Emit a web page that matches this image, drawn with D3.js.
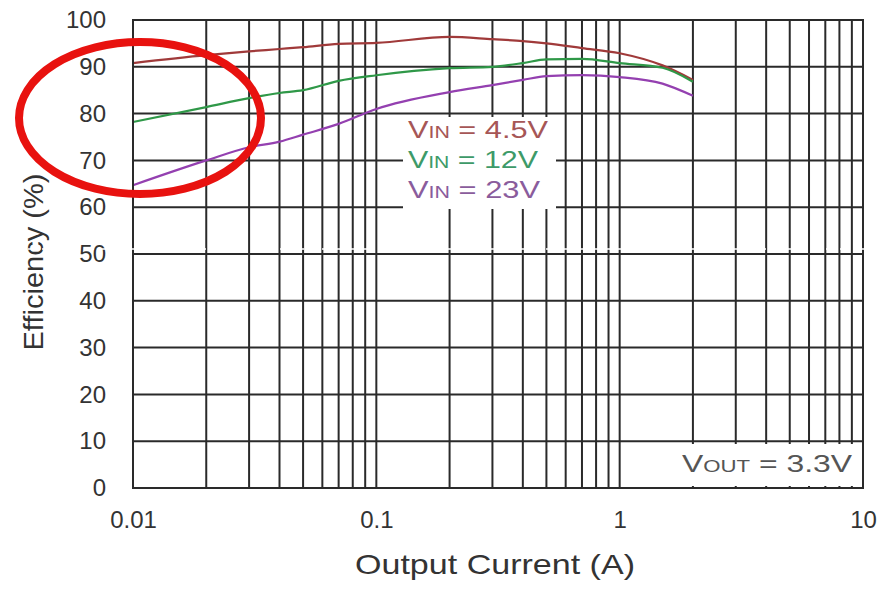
<!DOCTYPE html>
<html>
<head>
<meta charset="utf-8">
<script src="https://cdn.jsdelivr.net/npm/d3@7"></script>
<style>
  body { margin: 0; background: #fff; }
  svg { display: block; font-family: "Liberation Sans", Arial, sans-serif; }
</style>
</head>
<body>
<div id="chart"></div>
<script>
// Output current (A) vs efficiency (%) per input voltage
const current  = [0.01, 0.02, 0.03, 0.04, 0.05, 0.07, 0.1, 0.2, 0.3, 0.4, 0.5, 0.7, 1, 1.5, 2]
const eff4v5   = [90.8, 92.5, 93.3, 93.8, 94.2, 94.9, 95.1, 96.4, 95.9, 95.5, 95.0, 94.0, 92.9, 90.3, 87.2]
const eff12v   = [78.2, 81.4, 83.3, 84.4, 85.0, 87.0, 88.2, 89.7, 90.0, 90.8, 91.6, 91.7, 90.8, 89.8, 86.8]
const eff23v   = [64.7, 70.0, 72.8, 74.0, 75.5, 77.8, 81.0, 84.6, 86.1, 87.2, 88.0, 88.2, 87.8, 86.4, 83.8]

const seriesNames = ['4.5V', '12V', '23V']
const xTicks = [0.01, 0.1, 1, 10]
const yTicks = [0, 10, 20, 30, 40, 50, 60, 70, 80, 90, 100]

const W = 888, H = 589
const plot = { left: 133, right: 863, top: 20, bottom: 488 }
const lineColors = ['#a03a3a', '#2f9848', '#9440b0']
const textColors = ['#a65656', '#3d9a68', '#8a5c9c']
const legendWidths = [140, 130, 132]

const svg = d3.select('#chart').append('svg')
  .attr('width', W).attr('height', H)

const x = d3.scaleLog().domain([0.01, 10]).range([plot.left, plot.right])
const y = d3.scaleLinear().domain([0, 100]).range([plot.bottom, plot.top])

// Grid: every 1..9 per decade
const minor = []
for (let e = -2; e < 1; e++) {
  for (let m = 1; m < 10; m++) minor.push(m * Math.pow(10, e))
}
minor.push(10)

const grid = svg.append('g').attr('class', 'grid')
grid.selectAll('line.v')
  .data(minor).join('line')
  .attr('class', 'v')
  .attr('x1', d => x(d)).attr('x2', d => x(d))
  .attr('y1', plot.top).attr('y2', plot.bottom)
  .attr('stroke', '#2a2a2a')
  .attr('stroke-width', 2)

grid.selectAll('line.h')
  .data(yTicks).join('line')
  .attr('class', 'h')
  .attr('x1', plot.left).attr('x2', plot.right)
  .attr('y1', d => y(d)).attr('y2', d => y(d))
  .attr('stroke', '#2a2a2a')
  .attr('stroke-width', 2)

// Axis tick labels
const xAxis = svg.append('g')
  .attr('transform', `translate(0,${plot.bottom + 20})`)
  .call(d3.axisBottom(x).tickValues(xTicks).tickSize(0).tickFormat(d => String(d)))
xAxis.select('.domain').remove()
xAxis.selectAll('text')
  .attr('font-size', 24)
  .attr('font-family', '"Liberation Sans", Arial, sans-serif')
  .attr('fill', '#333')

const yAxis = svg.append('g')
  .attr('transform', `translate(${plot.left - 24},0)`)
  .call(d3.axisLeft(y).tickValues(yTicks).tickSize(0))
yAxis.select('.domain').remove()
yAxis.selectAll('text')
  .attr('font-size', 24)
  .attr('font-family', '"Liberation Sans", Arial, sans-serif')
  .attr('fill', '#333')

// Axis titles
svg.append('text')
  .attr('x', 495).attr('y', 574)
  .attr('text-anchor', 'middle')
  .attr('font-size', 28)
  .attr('fill', '#333')
  .attr('textLength', 280).attr('lengthAdjust', 'spacingAndGlyphs')
  .text('Output Current (A)')

svg.append('text')
  .attr('transform', 'translate(43,262) rotate(-90)')
  .attr('text-anchor', 'middle')
  .attr('font-size', 28)
  .attr('fill', '#333')
  .attr('textLength', 177).attr('lengthAdjust', 'spacingAndGlyphs')
  .text('Efficiency (%)')

// Curves
const line = d3.line()
  .x((d, i) => x(current[i]))
  .y(d => y(d))
  .curve(d3.curveMonotoneX)

svg.append('g').selectAll('path')
  .data([eff4v5, eff12v, eff23v]).join('path')
  .attr('d', line)
  .attr('fill', 'none')
  .attr('stroke', (d, i) => lineColors[i])
  .attr('stroke-width', 2.2)

// Legend (white box over the grid)
svg.append('rect')
  .attr('x', 403).attr('y', 117).attr('width', 153).attr('height', 92)
  .attr('fill', '#fff')

const legend = svg.append('g')
legend.selectAll('text')
  .data(seriesNames).join('text')
  .attr('x', 408)
  .attr('y', (d, i) => 138 + i * 30)
  .attr('font-size', 23)
  .attr('fill', (d, i) => textColors[i])
  .attr('textLength', (d, i) => legendWidths[i])
  .attr('lengthAdjust', 'spacingAndGlyphs')
  .each(function (d) {
    const t = d3.select(this)
    t.append('tspan').text('V')
    t.append('tspan').attr('font-size', 16).text('IN')
    t.append('tspan').text(' = ' + d)
  })

// Vout note
svg.append('rect')
  .attr('x', 668).attr('y', 444).attr('width', 193).attr('height', 42)
  .attr('fill', '#fff')

const vout = svg.append('text')
  .attr('x', 682).attr('y', 472)
  .attr('font-size', 23)
  .attr('fill', '#555')
  .attr('textLength', 170).attr('lengthAdjust', 'spacingAndGlyphs')
vout.append('tspan').text('V')
vout.append('tspan').attr('font-size', 16).text('OUT')
vout.append('tspan').text(' = 3.3V')

// plot frame
svg.append('rect')
  .attr('x', plot.left).attr('y', plot.top)
  .attr('width', plot.right - plot.left).attr('height', plot.bottom - plot.top)
  .attr('fill', 'none')
  .attr('stroke', '#2a2a2a')
  .attr('stroke-width', 2)

// red highlight ellipse
svg.append('ellipse')
  .attr('cx', 140).attr('cy', 118)
  .attr('rx', 121).attr('ry', 76)
  .attr('fill', 'none')
  .attr('stroke', '#e8120f')
  .attr('stroke-width', 8)

// white seam across the scan
svg.append('line')
  .attr('x1', 0).attr('x2', 870)
  .attr('y1', 249).attr('y2', 249)
  .attr('stroke', '#fff')
  .attr('stroke-width', 1.5)
  .attr('stroke-dasharray', '10,4')
</script>
</body>
</html>
